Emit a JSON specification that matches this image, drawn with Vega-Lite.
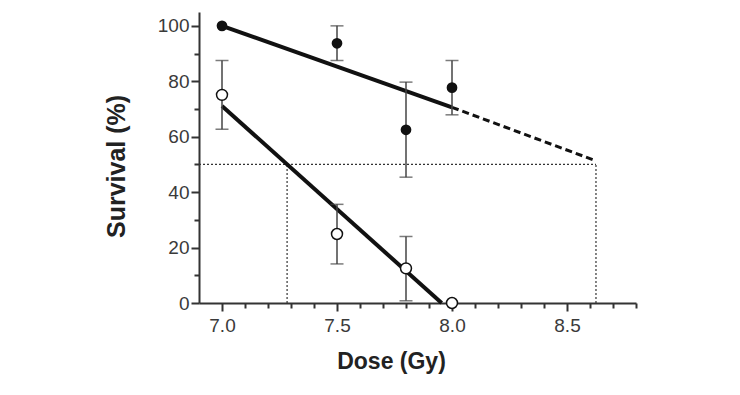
{
  "$schema": "https://vega.github.io/schema/vega-lite/v6.json",
  "width": 437,
  "height": 291,
  "autosize": {"type": "none"},
  "padding": {"left": 199, "top": 12, "right": 104, "bottom": 92},
  "background": "white",
  "config": {
    "view": {"stroke": null},
    "axis": {
      "grid": false,
      "domainColor": "#333",
      "domainWidth": 2,
      "tickColor": "#333",
      "tickWidth": 2,
      "labelFont": "Liberation Sans",
      "labelFontSize": 19,
      "labelColor": "#3a3a3a",
      "titleFont": "Liberation Sans",
      "titleFontWeight": "bold",
      "titleColor": "#222"
    }
  },
  "datasets": {
    "refs": [
      {"x1": 6.9, "x2": 8.626, "y1": 50, "y2": 50},
      {"x1": 7.283, "x2": 7.283, "y1": 0, "y2": 50},
      {"x1": 8.626, "x2": 8.626, "y1": 0, "y2": 50}
    ],
    "fits": [
      {"x1": 7.0, "x2": 8.0, "y1": 100, "y2": 70.6},
      {"x1": 7.0, "x2": 7.955, "y1": 71.1, "y2": 0}
    ],
    "ext": [
      {"x1": 8.0, "x2": 8.626, "y1": 70.6, "y2": 51.3}
    ],
    "err": [
      {"dose": 7.5, "lo": 87.5, "hi": 100, "group": "filled"},
      {"dose": 7.8, "lo": 45.4, "hi": 79.7, "group": "filled"},
      {"dose": 8.0, "lo": 67.9, "hi": 87.5, "group": "filled"},
      {"dose": 7.0, "lo": 62.7, "hi": 87.5, "group": "open"},
      {"dose": 7.5, "lo": 14.1, "hi": 35.6, "group": "open"},
      {"dose": 7.8, "lo": 0.8, "hi": 24.0, "group": "open"}
    ],
    "filled": [
      {"dose": 7.0, "surv": 100},
      {"dose": 7.5, "surv": 93.7},
      {"dose": 7.8, "surv": 62.5},
      {"dose": 8.0, "surv": 77.7}
    ],
    "open": [
      {"dose": 7.0, "surv": 75.1},
      {"dose": 7.5, "surv": 24.9},
      {"dose": 7.8, "surv": 12.5},
      {"dose": 8.0, "surv": 0}
    ]
  },
  "resolve": {"axis": {"x": "independent", "y": "independent"}},
  "layer": [
    {
      "data": {"name": "refs"},
      "mark": {"type": "rule", "color": "#333", "strokeWidth": 1.2, "strokeDash": [2, 2]},
      "encoding": {
        "x": {"field": "x1", "type": "quantitative", "scale": {"domain": [6.9, 8.8], "nice": false, "zero": false},
          "axis": {"orient": "bottom", "values": [7.1, 7.2, 7.3, 7.4, 7.6, 7.7, 7.8, 7.9, 8.1, 8.2, 8.3, 8.4, 8.6, 8.7, 8.8], "tickSize": 5, "labels": false, "domain": false, "title": null}},
        "x2": {"field": "x2"},
        "y": {"field": "y1", "type": "quantitative", "scale": {"domain": [0, 105], "nice": false, "zero": false},
          "axis": {"orient": "left", "values": [10, 30, 50, 70, 90], "tickSize": 5, "labels": false, "domain": false, "title": null}},
        "y2": {"field": "y2"}
      }
    },
    {
      "data": {"name": "fits"},
      "mark": {"type": "rule", "color": "#111", "strokeWidth": 4, "strokeCap": "butt"},
      "encoding": {
        "x": {"field": "x1", "type": "quantitative", "scale": {"domain": [6.9, 8.8], "nice": false, "zero": false}, "axis": null},
        "x2": {"field": "x2"},
        "y": {"field": "y1", "type": "quantitative", "scale": {"domain": [0, 105], "nice": false, "zero": false}, "axis": null},
        "y2": {"field": "y2"}
      }
    },
    {
      "data": {"name": "ext"},
      "mark": {"type": "rule", "color": "#111", "strokeWidth": 3, "strokeDash": [7, 4]},
      "encoding": {
        "x": {"field": "x1", "type": "quantitative", "scale": {"domain": [6.9, 8.8], "nice": false, "zero": false}, "axis": null},
        "x2": {"field": "x2"},
        "y": {"field": "y1", "type": "quantitative", "scale": {"domain": [0, 105], "nice": false, "zero": false}, "axis": null},
        "y2": {"field": "y2"}
      }
    },
    {
      "data": {"name": "err"},
      "mark": {"type": "rule", "color": "#444", "strokeWidth": 1.5},
      "encoding": {
        "x": {"field": "dose", "type": "quantitative", "scale": {"domain": [6.9, 8.8], "nice": false, "zero": false}, "axis": null},
        "y": {"field": "lo", "type": "quantitative", "scale": {"domain": [0, 105], "nice": false, "zero": false}, "axis": null},
        "y2": {"field": "hi"}
      }
    },
    {
      "data": {"name": "err"},
      "mark": {"type": "tick", "orient": "horizontal", "color": "#444", "size": 13, "thickness": 1.5},
      "encoding": {
        "x": {"field": "dose", "type": "quantitative", "scale": {"domain": [6.9, 8.8], "nice": false, "zero": false}, "axis": null},
        "y": {"field": "hi", "type": "quantitative", "scale": {"domain": [0, 105], "nice": false, "zero": false}, "axis": null}
      }
    },
    {
      "data": {"name": "err"},
      "mark": {"type": "tick", "orient": "horizontal", "color": "#444", "size": 13, "thickness": 1.5},
      "encoding": {
        "x": {"field": "dose", "type": "quantitative", "scale": {"domain": [6.9, 8.8], "nice": false, "zero": false}, "axis": null},
        "y": {"field": "lo", "type": "quantitative", "scale": {"domain": [0, 105], "nice": false, "zero": false}, "axis": null}
      }
    },
    {
      "data": {"name": "filled"},
      "mark": {"type": "point", "shape": "circle", "filled": true, "color": "#111", "size": 115, "opacity": 1},
      "encoding": {
        "x": {"field": "dose", "type": "quantitative", "scale": {"domain": [6.9, 8.8], "nice": false, "zero": false}, "axis": null},
        "y": {"field": "surv", "type": "quantitative", "scale": {"domain": [0, 105], "nice": false, "zero": false}, "axis": null}
      }
    },
    {
      "data": {"name": "open"},
      "mark": {"type": "point", "shape": "circle", "filled": false, "fill": "white", "fillOpacity": 1, "stroke": "#111", "strokeWidth": 1.5, "size": 120, "opacity": 1},
      "encoding": {
        "x": {"field": "dose", "type": "quantitative", "scale": {"domain": [6.9, 8.8], "nice": false, "zero": false},
          "axis": {"orient": "bottom", "values": [7.0, 7.5, 8.0, 8.5], "format": ".1f", "tickSize": 8, "labelPadding": 5,
            "title": "Dose (Gy)", "titleFontSize": 23, "titleX": 192, "titleY": 65, "titleBaseline": "alphabetic", "titleAlign": "center", "titleAnchor": "middle"}},
        "y": {"field": "surv", "type": "quantitative", "scale": {"domain": [0, 105], "nice": false, "zero": false},
          "axis": {"orient": "left", "values": [0, 20, 40, 60, 80, 100], "tickSize": 8, "labelPadding": 2,
            "title": "Survival (%)", "titleFontSize": 25, "titleAngle": -90, "titleX": -75, "titleY": 154, "titleBaseline": "alphabetic", "titleAlign": "center", "titleAnchor": "middle"}}
      }
    }
  ]
}
